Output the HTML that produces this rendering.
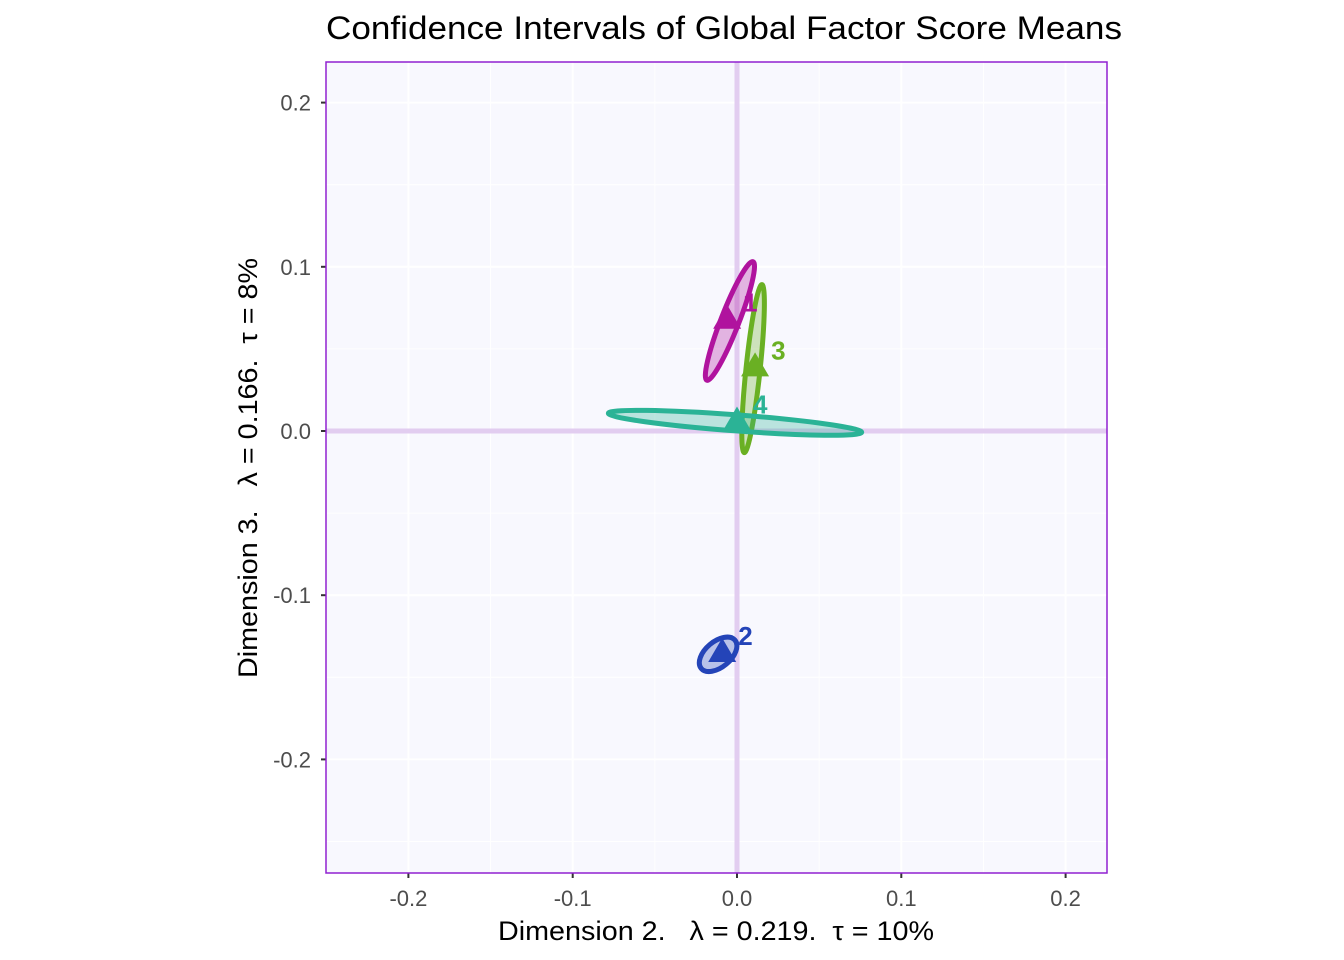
<!DOCTYPE html>
<html><head><meta charset="utf-8"><style>
html,body{margin:0;padding:0;background:#fff;}
svg{display:block;font-family:"Liberation Sans",Arial,sans-serif;}
text{white-space:pre;}
</style></head><body>
<svg id="chart" width="1344" height="960">
<text x="724" y="39" font-size="32" textLength="796" lengthAdjust="spacingAndGlyphs" text-anchor="middle" fill="#000">Confidence Intervals of Global Factor Score Means</text>
<text x="716" y="940" font-size="27" textLength="436" lengthAdjust="spacingAndGlyphs" text-anchor="middle" fill="#000">Dimension 2.   λ = 0.219.  τ = 10%</text>
<text transform="translate(257,468) rotate(-90)" font-size="27" textLength="420" lengthAdjust="spacingAndGlyphs" text-anchor="middle" fill="#000">Dimension 3.   λ = 0.166.  τ = 8%</text>
<g id="plot"></g>
</svg>
<script>
const groups = ["1","2","3","4"];
const colors = ["#B0139E","#2444B8","#6AB023","#2BB396"];
const centerX = [-0.0043, -0.0115, 0.0098, -0.0012];
const centerY = [0.067, -0.136, 0.038, 0.005];
const meanX = [-0.006, -0.009, 0.011, 0.000];
const meanY = [0.069, -0.134, 0.040, 0.007];
const semiMajor = [0.0387, 0.0134, 0.0514, 0.0773];
const semiMinor = [0.0055, 0.0078, 0.0043, 0.0049];
const angleDeg = [68.7, 40, 84, -4.3];
const xTicks = [-0.2,-0.1,0,0.1,0.2];
const yTicks = [0.2,0.1,0,-0.1,-0.2];
const xTickLabels = ["-0.2","-0.1","0.0","0.1","0.2"];
const yTickLabels = ["0.2","0.1","0.0","-0.1","-0.2"];

const L=326,R=1107,T=62,B=873;
const sx = v => 737 + v*1643;
const sy = v => 431 - v*1642;
const NS="http://www.w3.org/2000/svg";
const g=document.getElementById('plot');
function mk(tag,attrs,parent){const e=document.createElementNS(NS,tag);for(const k in attrs)e.setAttribute(k,attrs[k]);(parent||g).appendChild(e);return e;}

const bg=mk('rect',{x:L,y:T,width:R-L,height:B-T,fill:'#F8F8FE'});


for(let v=-0.25;v<=0.2501;v+=0.1){const p=sx(v);if(p>L&&p<R){const l=mk('line',{x1:p,x2:p,y1:T,y2:B,stroke:'#fff','stroke-width':1});}}
for(let v=-0.25;v<=0.2501;v+=0.1){const p=sy(v);if(p>T&&p<B){const l=mk('line',{x1:L,x2:R,y1:p,y2:p,stroke:'#fff','stroke-width':1});}}
xTicks.forEach((v,i)=>{const p=sx(v);
 const l=mk('line',{x1:p,x2:p,y1:T,y2:B,stroke:'#fff','stroke-width':2});
 const t=mk('line',{x1:p,x2:p,y1:B,y2:B+5,stroke:'#333','stroke-width':2});
 const tx=mk('text',{x:p,y:B+33,'font-size':22,'text-anchor':'middle',fill:'#4d4d4d'});tx.textContent=xTickLabels[i];});
yTicks.forEach((v,i)=>{const p=sy(v);
 const l=mk('line',{x1:L,x2:R,y1:p,y2:p,stroke:'#fff','stroke-width':2});
 const t=mk('line',{x1:L-5,x2:L,y1:p,y2:p,stroke:'#333','stroke-width':2});
 const tx=mk('text',{x:L-15,y:p+8,'font-size':22,'text-anchor':'end',fill:'#4d4d4d'});tx.textContent=yTickLabels[i];});
const z1=mk('line',{x1:sx(0),x2:sx(0),y1:T,y2:B,stroke:'#E2CDF0','stroke-width':5});
const z2=mk('line',{x1:L,x2:R,y1:sy(0),y2:sy(0),stroke:'#E2CDF0','stroke-width':5});

groups.forEach((gname,i)=>{
 const cx=sx(centerX[i]),cy=sy(centerY[i]);
 const rx=semiMajor[i]*1643,ry=semiMinor[i]*1643;
 const e=mk('ellipse',{cx:cx,cy:cy,rx:rx,ry:ry,transform:`rotate(${-angleDeg[i]} ${cx} ${cy})`,fill:colors[i],'fill-opacity':0.3,stroke:colors[i],'stroke-width':5});
 
 
});
groups.forEach((gname,i)=>{
 const px=sx(meanX[i]),py=sy(meanY[i]);
 const tri=mk('polygon',{points:`${px-14},${py+11} ${px+14},${py+11} ${px},${py-13}`,fill:colors[i]});
 
 
 const lb=mk('text',{x:px+16,y:py-6,'font-size':26,'font-weight':'bold',fill:colors[i]});
 lb.textContent=gname;
 
 
});
const br=mk('rect',{x:L,y:T,width:R-L,height:B-T,fill:'none',stroke:'#9020D0','stroke-width':1.5});


</script>
</body></html>
